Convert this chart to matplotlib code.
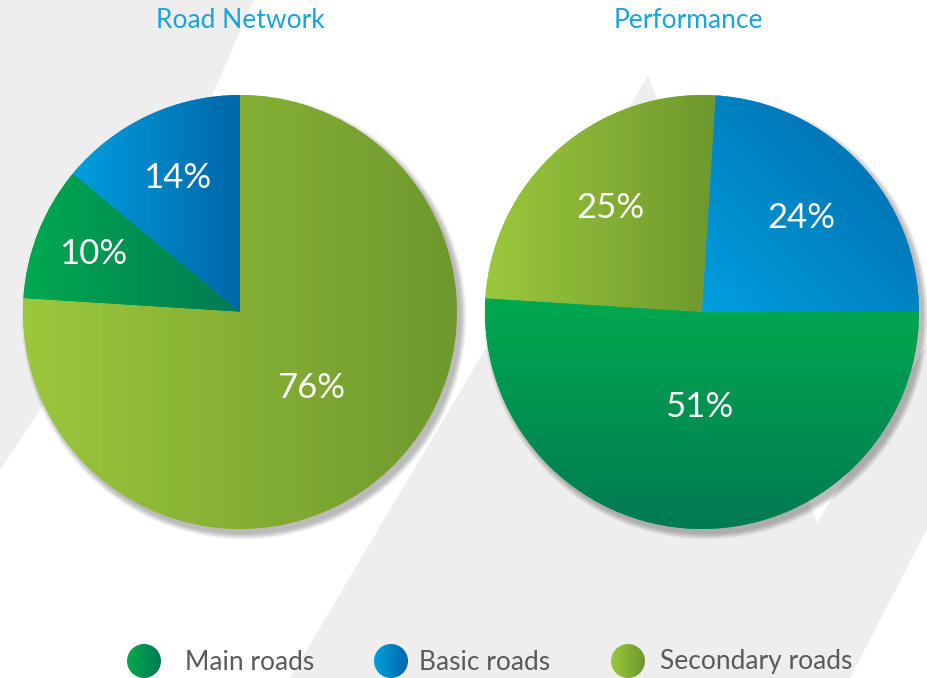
import numpy as np
import matplotlib
matplotlib.use("Agg")
import matplotlib.pyplot as plt
from matplotlib.patches import Polygon, Circle
from matplotlib.colors import to_rgb

# ---------------- data ----------------
categories = ["Main roads", "Basic roads", "Secondary roads"]
road_network = [10, 14, 76]      # Main, Basic, Secondary
performance = [51, 24, 25]       # Main, Basic, Secondary
titles = ["Road Network", "Performance"]

# ---------------- style ----------------
W, H = 928, 678
FONT = ["Lato", "DejaVu Sans"]
grad = {  # (light, dark)
    "Main roads": ("#00A94F", "#007A53"),
    "Basic roads": ("#009FDF", "#0066A8"),
    "Secondary roads": ("#9BC83C", "#6F982E"),
}

fig = plt.figure(figsize=(W / 100, H / 100), dpi=100)
ax = fig.add_axes([0, 0, 1, 1])
ax.set_xlim(0, W)
ax.set_ylim(0, H)
ax.set_aspect("equal")
ax.axis("off")


def P(x, y):  # pixel (y down) -> data (y up)
    return (x, H - y)


# background shapes
bg = "#EEEEEE"
ax.add_patch(Polygon([P(0, 0), P(254, 0), P(137, 265), P(0, 470)],
                     closed=True, fc=bg, ec="none", zorder=0))
ax.add_patch(Polygon([P(290, 678), P(648, 75), P(817, 523), P(928, 343),
                      P(928, 527), P(850, 678)],
                     closed=True, fc=bg, ec="none", zorder=0))


def gradient_fill(patch, bbox, c0, c1, mode, z):
    x0, x1, y0, y1 = bbox
    n = 300
    u = np.linspace(0, 1, n)[None, :].repeat(n, 0)
    v = np.linspace(0, 1, n)[:, None].repeat(n, 1)  # 0 bottom -> 1 top
    if mode == "h":
        t = u
    elif mode == "v":
        t = 1 - v
    else:  # diagonal bottom-left light -> top-right dark
        t = (u + v) / 2
    a = np.array(to_rgb(c0))
    b = np.array(to_rgb(c1))
    img = a[None, None, :] * (1 - t[..., None]) + b[None, None, :] * t[..., None]
    im = ax.imshow(img, extent=(x0, x1, y0, y1), origin="lower",
                   interpolation="bilinear", zorder=z)
    im.set_clip_path(patch)


def wedge_bbox(w):
    th = np.radians(np.linspace(w.theta1, w.theta2, 200))
    cx, cy = w.center
    xs = np.concatenate([[cx], cx + w.r * np.cos(th)])
    ys = np.concatenate([[cy], cy + w.r * np.sin(th)])
    return xs.min(), xs.max(), ys.min(), ys.max()


R = 217
pies = [
    dict(values=road_network, title=titles[0], center=P(240, 312), start=90,
         order=[1, 0, 2], title_xy=P(240, 21),
         modes={"Main roads": "h", "Basic roads": "h", "Secondary roads": "h"},
         dist={"Main roads": 0.73, "Basic roads": 0.68, "Secondary roads": 0.48},
         whole={"Secondary roads"}),
    dict(values=performance, title=titles[1], center=P(702, 312), start=86.4,
         order=[2, 0, 1], title_xy=P(688, 21),
         modes={"Main roads": "v", "Basic roads": "d", "Secondary roads": "h"},
         dist={"Main roads": 0.44, "Basic roads": 0.63, "Secondary roads": 0.64},
         whole=set()),
]

for p in pies:
    cx, cy = p["center"]
    # soft drop shadow (towards lower right)
    for i in range(12):
        ax.add_patch(Circle((cx + 4, cy - 5), R + 0.5 * i, fc="black",
                            ec="none", alpha=0.022, zorder=1))
    vals = [p["values"][i] for i in p["order"]]
    labs = [categories[i] for i in p["order"]]
    wedges, _ = ax.pie(vals, center=(cx, cy), radius=R, startangle=p["start"],
                       counterclock=True,
                       colors=[grad[l][0] for l in labs],
                       wedgeprops=dict(linewidth=0), frame=True)
    for w, lab, val in zip(wedges, labs, vals):
        w.set_zorder(2)
        c0, c1 = grad[lab]
        if lab in p["whole"]:
            bbox = (cx - R, cx + R, cy - R, cy + R)
        else:
            bbox = wedge_bbox(w)
        gradient_fill(w, bbox, c0, c1, p["modes"][lab], 3)
        mid = np.radians((w.theta1 + w.theta2) / 2)
        d = p["dist"][lab] * R
        ax.text(cx + d * np.cos(mid), cy + d * np.sin(mid), f"{val}%",
                color="white", fontsize=25, fontweight="normal", family=FONT,
                ha="center", va="center", zorder=5)
    ax.text(*p["title_xy"], p["title"], color="#1BA3DD", fontsize=19,
            fontweight="normal", family=FONT, ha="center", va="center", zorder=5)

# legend
leg_marker_x = [144, 391, 628]
leg_text_x = [185, 419, 660]
for cat, mx, tx in zip(categories, leg_marker_x, leg_text_x):
    c = Circle(P(mx, 661), 17, fc="none", ec="none", zorder=4)
    ax.add_patch(c)
    gradient_fill(c, (mx - 17, mx + 17, H - 661 - 17, H - 661 + 17),
                  grad[cat][0], grad[cat][1], "h", 4)
    ax.text(*P(tx, 662), cat, color="#5A5A5A", fontsize=19,
            fontweight="normal", family=FONT, ha="left", va="center", zorder=5)

ax.set_xlim(0, W)
ax.set_ylim(0, H)
ax.axis("off")
fig.savefig("out.png", dpi=100)
